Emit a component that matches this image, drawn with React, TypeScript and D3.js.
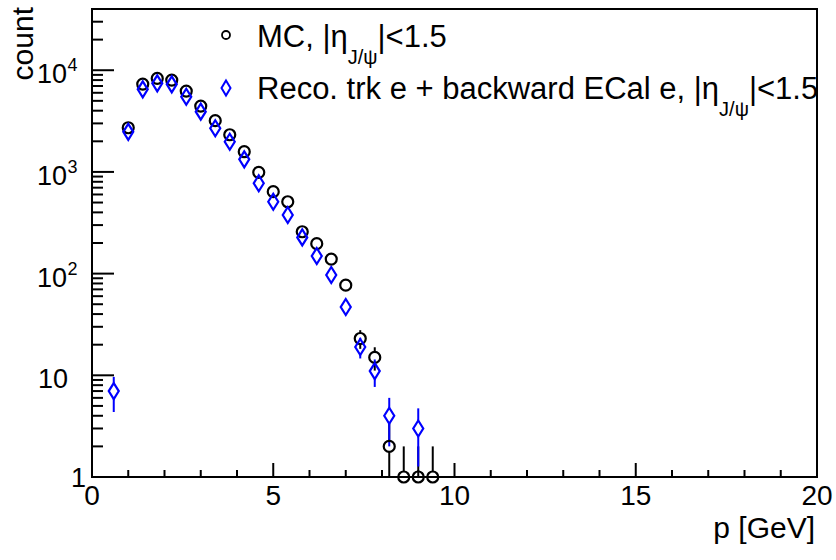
import React from 'react';
import * as d3 from 'd3';

// ---- data ----
const mcP = [1.0, 1.4, 1.8, 2.2, 2.6, 3.0, 3.4, 3.8, 4.2, 4.6, 5.0, 5.4, 5.8, 6.2, 6.6, 7.0, 7.4, 7.8, 8.2, 8.6, 9.0, 9.4];
const mcCount = [2720, 7300, 8300, 8000, 6240, 4440, 3190, 2320, 1580, 990, 639, 509, 258, 197, 139, 77, 23, 15, 2, 1, 1, 1];
const recoP = [0.6, 1.0, 1.4, 1.8, 2.2, 2.6, 3.0, 3.4, 3.8, 4.2, 4.6, 5.0, 5.4, 5.8, 6.2, 6.6, 7.0, 7.4, 7.8, 8.2, 9.0];
const recoCount = [7, 2480, 6490, 7430, 7270, 5490, 3910, 2690, 1980, 1330, 773, 509, 377, 227, 149, 97, 47, 19, 11, 4, 3];
const xMajorTicks = [0, 5, 10, 15, 20];
const yMajorExps = [0, 1, 2, 3, 4];

const W = 836, H = 560;
const L = 92, R = 817, T = 9, B = 477;
const FONT = '"Liberation Sans", Arial, Helvetica, sans-serif';
const BLUE = '#0000ff';
const CR = 5.5;
const DHW = 5, DHH = 8;

export default function App() {
  const x = d3.scaleLinear().domain([0, 20]).range([L, R]);
  const y = d3.scaleLog().domain([1, 40000]).range([B, T]);

  const xMinor = d3.range(0, 21, 1).filter((v) => v % 5 !== 0);
  const yMinor: number[] = [];
  for (let e = 0; e <= 4; e++) {
    for (let k = 2; k <= 9; k++) {
      const v = k * Math.pow(10, e);
      if (v <= 40000) yMinor.push(v);
    }
  }

  const errSegs = (px: number[], vals: number[], halfH: number) =>
    px.map((p, i) => {
      const v = vals[i];
      const e = Math.sqrt(v);
      const cx = x(p);
      const cy = y(v);
      const up = y(v + e);
      const down = v - e > 1 ? y(v - e) : B;
      const segs: [number, number][] = [];
      if (up < cy - halfH) segs.push([up, cy - halfH]);
      if (down > cy + halfH) segs.push([cy + halfH, down]);
      return { cx, segs };
    });

  const mcErr = errSegs(mcP, mcCount, CR);
  const recoErr = errSegs(recoP, recoCount, DHH);

  const diamond = (cx: number, cy: number, hw: number, hh: number) =>
    `M${cx},${cy - hh}L${cx + hw},${cy}L${cx},${cy + hh}L${cx - hw},${cy}Z`;

  return (
    <svg width={W} height={H} style={{ position: 'absolute', left: 0, top: 0, background: '#fff' }} fontFamily={FONT}>
      <rect x={0} y={0} width={W} height={H} fill="#fff" />

      {/* error bars */}
      {mcErr.map((d, i) =>
        d.segs.map((s, j) => (
          <line key={`me${i}-${j}`} x1={d.cx} x2={d.cx} y1={s[0]} y2={s[1]} stroke="#000" strokeWidth={2} />
        ))
      )}
      {recoErr.map((d, i) =>
        d.segs.map((s, j) => (
          <line key={`re${i}-${j}`} x1={d.cx} x2={d.cx} y1={s[0]} y2={s[1]} stroke={BLUE} strokeWidth={2} />
        ))
      )}

      {/* markers */}
      {mcP.map((p, i) => (
        <circle key={`m${i}`} cx={x(p)} cy={y(mcCount[i])} r={CR} fill="none" stroke="#000" strokeWidth={2.2} />
      ))}
      {recoP.map((p, i) => (
        <path key={`r${i}`} d={diamond(x(p), y(recoCount[i]), DHW, DHH)} fill="none" stroke={BLUE} strokeWidth={2.2} />
      ))}

      {/* frame */}
      <rect x={L} y={T} width={R - L} height={B - T} fill="none" stroke="#000" strokeWidth={2} />

      {/* x ticks */}
      {xMajorTicks.map((v) => (
        <line key={`xM${v}`} x1={x(v)} x2={x(v)} y1={B} y2={B - 14} stroke="#000" strokeWidth={2} />
      ))}
      {xMinor.map((v) => (
        <line key={`xm${v}`} x1={x(v)} x2={x(v)} y1={B} y2={B - 7} stroke="#000" strokeWidth={2} />
      ))}
      {xMajorTicks.map((v) => (
        <text key={`xl${v}`} x={x(v)} y={B + 28} fontSize={28} textAnchor="middle" fill="#000">
          {v}
        </text>
      ))}

      {/* y ticks */}
      {yMajorExps.map((e) => (
        <line key={`yM${e}`} x1={L} x2={L + 22} y1={y(Math.pow(10, e))} y2={y(Math.pow(10, e))} stroke="#000" strokeWidth={2} />
      ))}
      {yMinor.map((v) => (
        <line key={`ym${v}`} x1={L} x2={L + 11} y1={y(v)} y2={y(v)} stroke="#000" strokeWidth={2} />
      ))}
      {yMajorExps.map((e) => {
        const yy = y(Math.pow(10, e));
        if (e === 0)
          return (
            <text key={`yl${e}`} x={86} y={yy + 10} fontSize={27} textAnchor="end" fill="#000">1</text>
          );
        if (e === 1)
          return (
            <text key={`yl${e}`} x={68} y={yy + 13} fontSize={27} textAnchor="end" fill="#000">10</text>
          );
        return (
          <g key={`yl${e}`}>
            <text x={67} y={yy + 13} fontSize={27} textAnchor="end" fill="#000">10</text>
            <text x={67.5} y={yy + 1} fontSize={18} textAnchor="start" fill="#000">{e}</text>
          </g>
        );
      })}

      {/* axis titles */}
      <text x={815} y={538} fontSize={30} textAnchor="end" fill="#000">p [GeV]</text>
      <text transform="translate(33,7) rotate(-90)" fontSize={30} textAnchor="end" fill="#000">count</text>

      {/* legend */}
      <circle cx={226} cy={35} r={4} fill="none" stroke="#000" strokeWidth={1.8} />
      <text x={257} y={47} fontSize={31} fill="#000">
        MC, |η<tspan fontSize={20} dy={17}>J/ψ</tspan><tspan dy={-17}>|&lt;1.5</tspan>
      </text>
      <path d={diamond(226, 88, 4.5, 7.5)} fill="none" stroke={BLUE} strokeWidth={2} />
      <text x={257} y={99} fontSize={31} fill="#000">
        Reco. trk e + backward ECal e, |η<tspan fontSize={20} dy={17}>J/ψ</tspan><tspan dy={-17}>|&lt;1.5</tspan>
      </text>
    </svg>
  );
}
